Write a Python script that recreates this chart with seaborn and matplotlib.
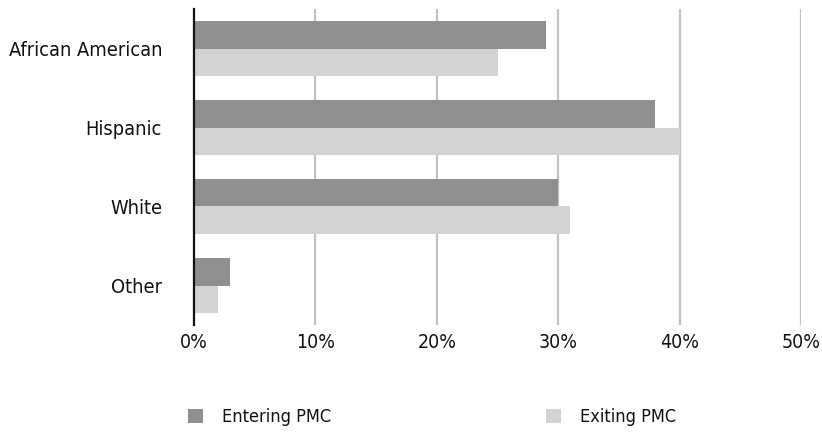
import matplotlib
matplotlib.use("Agg")
import matplotlib.pyplot as plt
import seaborn as sns
import pandas as pd
from matplotlib.patches import Patch

groups = ["African American", "Hispanic", "White", "Other"]
entering = [29, 38, 30, 3]
exiting = [25, 40, 31, 2]
series = ["Entering PMC", "Exiting PMC"]
colors = ["#8f8f8f", "#d3d3d4"]

df = pd.DataFrame({
    "group": groups * 2,
    "share": entering + exiting,
    "series": [series[0]] * len(groups) + [series[1]] * len(groups),
})

sns.set_theme(style="white")
plt.rcParams["font.family"] = ["DejaVu Sans"]
plt.rcParams["font.stretch"] = "condensed"
plt.rcParams["text.color"] = "#111111"

fig = plt.figure(figsize=(8.22, 4.37), dpi=100)
ax = fig.add_axes([194 / 822, 1 - 325 / 437, (801 - 194) / 822, (325 - 9) / 437])

sns.barplot(data=df, y="group", x="share", hue="series", order=groups,
            hue_order=series, palette=colors, orient="h", width=0.7,
            saturation=1, linewidth=0, ax=ax, legend=False)

ax.set_xlim(0, 50)
ax.set_ylim(3.5, -0.5)
ax.set_xticks([0, 10, 20, 30, 40, 50])
ax.set_xticklabels([f"{v}%" for v in [0, 10, 20, 30, 40, 50]], fontsize=14, color="#111111")
ax.set_yticklabels(groups, fontsize=14.3, color="#111111")
ax.tick_params(axis="y", length=0, pad=23)
ax.tick_params(axis="x", length=0, pad=6)
ax.set_xlabel("")
ax.set_ylabel("")

for v in [10, 20, 30, 40, 50]:
    ax.axvline(v, color="#c2c2c2", lw=1.6, zorder=0)
ax.set_axisbelow(True)
for s in ["top", "right", "bottom"]:
    ax.spines[s].set_visible(False)
ax.spines["left"].set_color("#111111")
ax.spines["left"].set_linewidth(1.6)

handles = [Patch(facecolor=c, edgecolor="none") for c in colors]
fig.legend(handles, series, loc="center", bbox_to_anchor=(432 / 822, 1 - 417 / 437),
           ncol=2, frameon=False, fontsize=13, handlelength=0.85, handleheight=0.85,
           handletextpad=1.05, columnspacing=11.9)

fig.savefig("out.png", dpi=100)
